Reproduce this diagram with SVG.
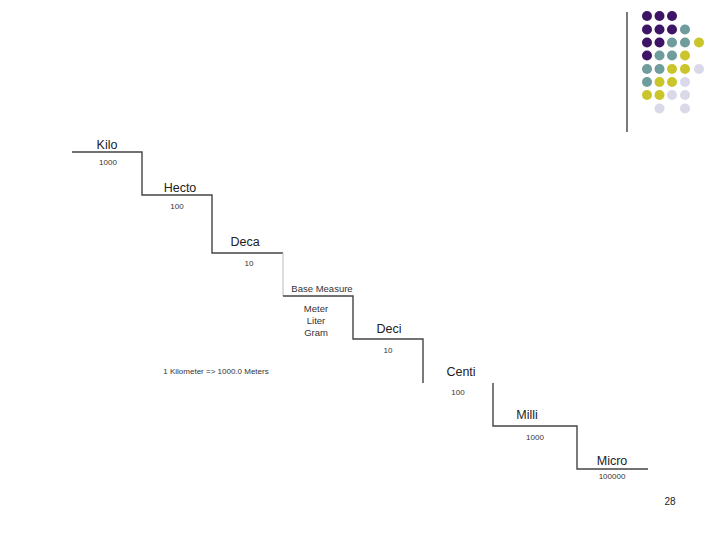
<svg xmlns="http://www.w3.org/2000/svg" width="720" height="540" viewBox="0 0 720 540">
<style>
.ln{stroke:#444;stroke-width:1.4;fill:none}
.lt{stroke:#bbb;stroke-width:1;fill:none}
.t{font-family:"Liberation Sans",Arial,sans-serif;fill:#222;text-anchor:middle}
.h{font-size:12.5px}
.n{font-size:8px;fill:#333}
.m{font-size:9.5px;fill:#333}
.p{fill:#3d1466}.g{fill:#6f9c9c}.y{fill:#c9c52a}.l{fill:#d9d9ea}
</style>
<rect width="720" height="540" fill="#fff"/>
<g id="decor">
<line x1="627" y1="12" x2="627" y2="132" stroke="#222" stroke-width="1.2"/>
<circle class="p" cx="647" cy="16" r="5"/><circle class="p" cx="659.5" cy="16" r="5"/><circle class="p" cx="672" cy="16" r="5"/>
<circle class="p" cx="647" cy="29.5" r="5"/><circle class="p" cx="659.5" cy="29.5" r="5"/><circle class="p" cx="672" cy="29.5" r="5"/><circle class="g" cx="685" cy="29.5" r="5"/>
<circle class="p" cx="647" cy="42.5" r="5"/><circle class="p" cx="659.5" cy="42.5" r="5"/><circle class="g" cx="672" cy="42.5" r="5"/><circle class="g" cx="685" cy="42.5" r="5"/><circle class="y" cx="699" cy="42.5" r="5"/>
<circle class="p" cx="647" cy="55.5" r="5"/><circle class="g" cx="659.5" cy="55.5" r="5"/><circle class="g" cx="672" cy="55.5" r="5"/><circle class="y" cx="685" cy="55.5" r="5"/>
<circle class="g" cx="647" cy="69" r="5"/><circle class="g" cx="659.5" cy="69" r="5"/><circle class="y" cx="672" cy="69" r="5"/><circle class="y" cx="685" cy="69" r="5"/><circle class="l" cx="699" cy="69" r="5"/>
<circle class="g" cx="647" cy="82" r="5"/><circle class="y" cx="659.5" cy="82" r="5"/><circle class="y" cx="672" cy="82" r="5"/><circle class="l" cx="685" cy="82" r="5"/>
<circle class="y" cx="647" cy="95" r="5"/><circle class="y" cx="659.5" cy="95" r="5"/><circle class="l" cx="672" cy="95" r="5"/><circle class="l" cx="685" cy="95" r="5"/>
<circle class="l" cx="659.5" cy="108.5" r="5"/><circle class="l" cx="685" cy="108.5" r="5"/>
</g>
<g id="connectors">
<polyline class="ln" points="72,152 142,152 142,195 212,195 212,253 283,253"/>
<line class="lt" x1="283" y1="253" x2="283" y2="296"/>
<polyline class="ln" points="283,296 353,296 353,339 423,339 423,383"/>
<polyline class="ln" points="493,383 493,426 577,426 577,469 648,469"/>
</g>
<g id="kilo"><text class="t h" x="107" y="149">Kilo</text><text class="t n" x="108" y="165">1000</text></g>
<g id="hecto"><text class="t h" x="180" y="192">Hecto</text><text class="t n" x="177" y="209">100</text></g>
<g id="deca"><text class="t h" x="245" y="246">Deca</text><text class="t n" x="249" y="266">10</text></g>
<g id="base"><text class="t m" x="322" y="292">Base Measure</text><text class="t m" x="316" y="312">Meter</text><text class="t m" x="316" y="324">Liter</text><text class="t m" x="316" y="336">Gram</text></g>
<g id="deci"><text class="t h" x="389" y="333">Deci</text><text class="t n" x="388" y="353">10</text></g>
<g id="centi"><text class="t h" x="461" y="376">Centi</text><text class="t n" x="458" y="395">100</text></g>
<g id="milli"><text class="t h" x="527" y="419">Milli</text><text class="t n" x="535" y="440">1000</text></g>
<g id="micro"><text class="t h" x="612" y="465">Micro</text><text class="t n" x="612" y="479">100000</text></g>
<g id="note"><text class="t n" x="216" y="374">1 Kilometer =&gt; 1000.0 Meters</text></g>
<g id="page"><text class="t" x="670" y="505" font-size="10">28</text></g>
</svg>
